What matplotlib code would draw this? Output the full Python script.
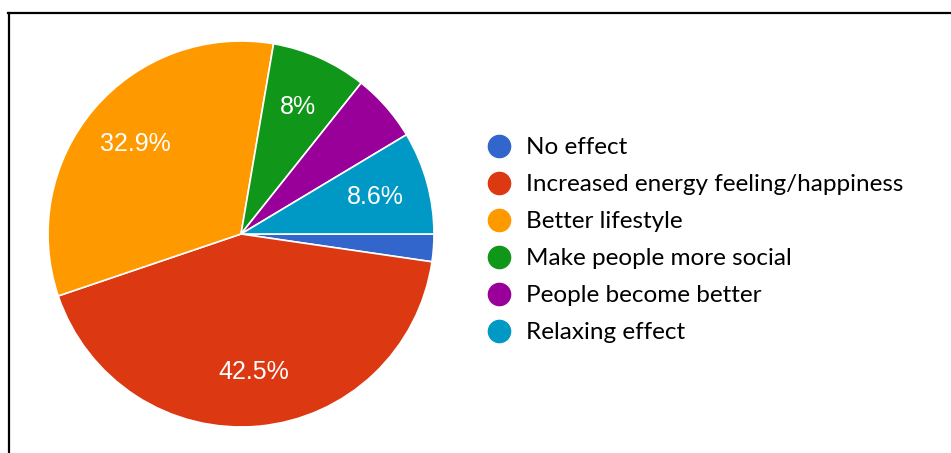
import matplotlib
matplotlib.use("Agg")
import matplotlib.pyplot as plt
from matplotlib.lines import Line2D

labels = ["No effect", "Increased energy feeling/happiness", "Better lifestyle",
          "Make people more social", "People become better", "Relaxing effect"]
shares = [2.3, 42.5, 32.9, 8.0, 5.7, 8.6]
colors = ["#3366cc", "#dc3912", "#ff9900", "#109618", "#990099", "#0099c6"]

W, H = 951, 453
fig = plt.figure(figsize=(W / 100, H / 100), dpi=100)

# pie centred at (241, 234) px with radius 193 px
cx, cy, r = 241, 234, 193
ax = fig.add_axes([(cx - r) / W, (H - cy - r) / H, 2 * r / W, 2 * r / H])


def pct_label(p):
    if p < 7:
        return ""
    return f"{round(p, 1):g}%"


wedges, texts, autotexts = ax.pie(
    shares, colors=colors, startangle=0, counterclock=False,
    autopct=pct_label, pctdistance=0.72,
    wedgeprops=dict(edgecolor="white", linewidth=1.2),
    textprops=dict(color="white", fontsize=18, family="Liberation Sans"))
ax.set_xlim(-1, 1)
ax.set_ylim(-1, 1)
ax.set_aspect("equal")
ax.axis("off")

handles = [Line2D([], [], marker="o", linestyle="none", markersize=16,
                  markerfacecolor=c, markeredgecolor=c) for c in colors]
fig.legend(handles, labels, loc="upper left",
           bbox_to_anchor=(472 / W, 1 - 125 / H), frameon=False,
           prop=dict(family="Lato", size=17.5), labelspacing=0.66,
           handletextpad=0.52, handlelength=1.2, borderpad=0)

# black frame along the top and left edges
fig.add_artist(Line2D([8 / W, 1], [1 - 12.5 / H, 1 - 12.5 / H],
                      color="black", linewidth=1.6, transform=fig.transFigure))
fig.add_artist(Line2D([9 / W, 9 / W], [0, 1 - 12.5 / H],
                      color="black", linewidth=1.6, transform=fig.transFigure))

fig.savefig("out.png", dpi=100, facecolor="white")
